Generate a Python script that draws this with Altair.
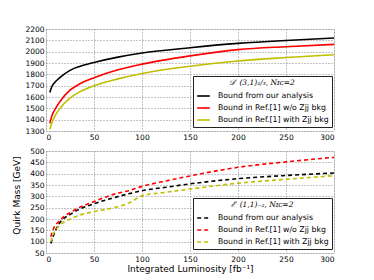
import altair as alt
import pandas as pd

# ---- data ----
series = ["Bound from our analysis", "Bound in Ref.[1] w/o Zjj bkg", "Bound in Ref.[1] with Zjj bkg"]
colors = ["#000000", "#ff0000", "#bfbf00"]

top_lum = [4, 6, 10, 15, 25, 35, 50, 75, 100, 150, 200, 250, 300]
top_black = [1640, 1690, 1737, 1775, 1835, 1870, 1905, 1952, 1988, 2035, 2073, 2099, 2120]
top_red = [1368, 1430, 1500, 1565, 1660, 1715, 1770, 1840, 1890, 1963, 2018, 2044, 2064]
top_yellow = [1315, 1370, 1442, 1505, 1590, 1645, 1699, 1760, 1808, 1872, 1918, 1948, 1973]

bot_lum = [5, 8, 13, 27, 50, 69, 86, 100, 125, 150, 200, 250, 300]
bot_black = [92, 129, 174, 225, 267, 292, 311, 325, 340, 355, 378, 392, 403]
bot_red = [122, 159, 188, 233, 277, 307, 325, 344, 368, 390, 428, 452, 472]
bot_yellow = [100, 137, 166, 203, 233, 248, 270, 302, 318, 332, 358, 375, 391]

x_ticks = [0, 50, 100, 150, 200, 250, 300]
top_ticks = list(range(1300, 2201, 100))
bot_ticks = list(range(50, 501, 50))

top_title = "𝒟′ (3,1)₂/₃, Nɪᴄ=2"
bot_title = "ℰ′ (1,1)₋₂, Nɪᴄ=2"


def frame(lum, ys):
    rows = []
    for name, vals in zip(series, ys):
        for l, v in zip(lum, vals):
            rows.append({"lum": l, "mass": v, "series": name})
    return pd.DataFrame(rows)


top_df = frame(top_lum, [top_black, top_red, top_yellow])
bot_df = frame(bot_lum, [bot_black, bot_red, bot_yellow])

W, H = 288, 102
AX = dict(gridDash=[1, 2], gridColor="#888", ticks=False, labelPadding=2,
          labelFontSize=7.5, labelFont="DejaVu Sans", labelColor="#000", domain=False,
          format="d", titleFontSize=9, titleFont="DejaVu Sans", titleFontWeight="normal",
          titleColor="#000")


def legend(title, dash=None):
    kw = dict(orient="none", legendX=147, legendY=47, title=title,
              titleFont="DejaVu Serif", titleFontStyle="italic", titleFontWeight="normal",
              titleFontSize=7.5, titleAnchor="middle", titleColor="#000",
              labelFontSize=7.8, labelFont="DejaVu Sans", labelColor="#000",
              symbolType="stroke", symbolStrokeWidth=1.6, symbolSize=160,
              strokeColor="#222", fillColor="white", padding=3, rowPadding=0,
              labelLimit=200, titlePadding=2, labelOffset=7)
    if dash:
        kw["symbolDash"] = dash
    return alt.Legend(**kw)


top = alt.Chart(top_df).mark_line(strokeWidth=1.6, interpolate="monotone").encode(
    x=alt.X("lum:Q", scale=alt.Scale(domain=[0, 300], nice=False),
            axis=alt.Axis(values=x_ticks, title=None, **AX)),
    y=alt.Y("mass:Q", scale=alt.Scale(domain=[1300, 2200], nice=False),
            axis=alt.Axis(values=top_ticks, title="Quirk Mass [GeV]",
                          titleY=166, titleAlign="center", titlePadding=3, **AX)),
    color=alt.Color("series:N", scale=alt.Scale(domain=series, range=colors), sort=series,
                    legend=legend(top_title)),
).properties(width=W, height=H)

bot = alt.Chart(bot_df).mark_line(strokeWidth=1.6, interpolate="monotone", strokeDash=[4, 3]).encode(
    x=alt.X("lum:Q", scale=alt.Scale(domain=[0, 300], nice=False),
            axis=alt.Axis(values=x_ticks, title="Integrated Luminosity  [fb⁻¹]",
                          titlePadding=2, **AX)),
    y=alt.Y("mass:Q", scale=alt.Scale(domain=[50, 500], nice=False),
            axis=alt.Axis(values=bot_ticks, title=None, **AX)),
    color=alt.Color("series:N", scale=alt.Scale(domain=series, range=colors), sort=series,
                    legend=legend(bot_title, [4, 3])),
).properties(width=W, height=H)

chart = alt.vconcat(top, bot, spacing=20, bounds="flush").resolve_scale(
    color="independent"
).resolve_legend(color="independent").configure_view(
    stroke="#000", strokeWidth=1
).configure(padding={"top": 16, "left": 4, "right": 5, "bottom": 2})

chart.save("out.html", embed_options={"renderer": "svg", "actions": False})
